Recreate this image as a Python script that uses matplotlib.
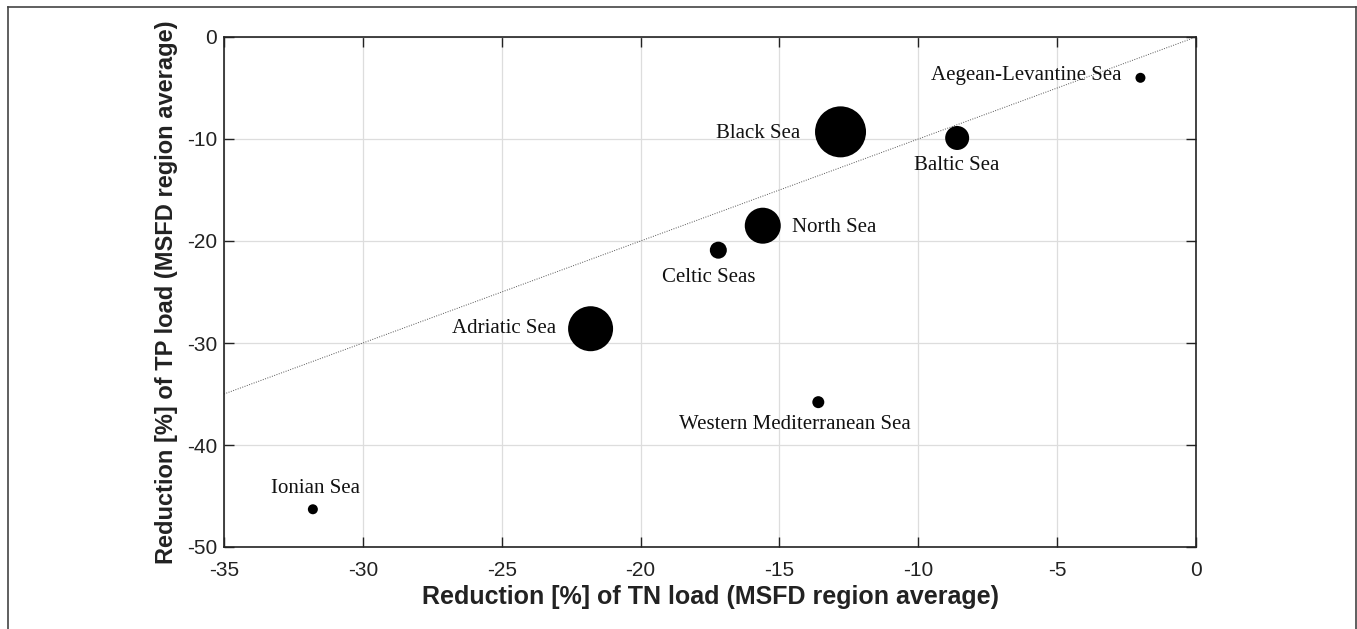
import matplotlib
matplotlib.use("Agg")
import matplotlib.pyplot as plt
from matplotlib.lines import Line2D
import numpy as np

regions = ["Aegean-Levantine Sea", "Black Sea", "Baltic Sea", "North Sea",
           "Celtic Seas", "Adriatic Sea", "Western Mediterranean Sea", "Ionian Sea"]
tn_reduction = [-2.0, -12.8, -8.6, -15.6, -17.2, -21.8, -13.6, -31.8]
tp_reduction = [-4.0, -9.3, -9.9, -18.5, -20.9, -28.6, -35.8, -46.3]
bubble_diam = [10, 51, 24, 36, 17, 45, 12, 10]  # relative bubble size (px diameter)

xticks = [-35, -30, -25, -20, -15, -10, -5, 0]
yticks = [-50, -40, -30, -20, -10, 0]

# label offsets (points) and alignment
label_style = {
    "Aegean-Levantine Sea": ((-14, 2), "right", "center"),
    "Black Sea": ((-29, -1), "right", "center"),
    "Baltic Sea": ((0, -20), "center", "center"),
    "North Sea": ((21, -1), "left", "center"),
    "Celtic Seas": ((-7, -20), "center", "center"),
    "Adriatic Sea": ((-25, 0), "right", "center"),
    "Western Mediterranean Sea": ((-17, -16), "center", "center"),
    "Ionian Sea": ((2, 15), "center", "center"),
}

fig = plt.figure(figsize=(13.57, 6.29), dpi=100)
ax = fig.add_axes([224/1357, 82/629, 972/1357, 510/629])

ax.plot([-35, 0], [-35, 0], linestyle=(0, (1, 1.5)), color="#555555", linewidth=0.7, zorder=1)

sizes = [(d * 0.72) ** 2 for d in bubble_diam]
ax.scatter(tn_reduction, tp_reduction, s=sizes, color="black", zorder=3, linewidths=0)

for name, x, y in zip(regions, tn_reduction, tp_reduction):
    off, ha, va = label_style[name]
    ax.annotate(name, (x, y), xytext=off, textcoords="offset points",
                ha=ha, va=va, fontsize=15, family="Liberation Serif", color="#111111")

ax.set_xlim(-35, 0)
ax.set_ylim(-50, 0)
ax.set_xticks(xticks)
ax.set_yticks(yticks)
ax.set_xticklabels([str(t) for t in xticks])
ax.set_yticklabels([str(t) for t in yticks])
ax.grid(True, color="#dddddd", linewidth=0.9)
ax.set_axisbelow(True)
ax.tick_params(direction="in", length=7, width=1, top=True, right=True,
               labelsize=15, colors="#222222")
ax.tick_params(axis="x", pad=10)
ax.tick_params(axis="y", pad=5)
for lab in ax.get_xticklabels() + ax.get_yticklabels():
    lab.set_family("Liberation Sans")
for sp in ax.spines.values():
    sp.set_linewidth(1.2)
    sp.set_color("#222222")

ax.set_xlabel("Reduction [%] of TN load (MSFD region average)", fontsize=18,
              fontweight="bold", family="Liberation Sans", color="#222222", labelpad=4)
ax.set_ylabel("Reduction [%] of TP load (MSFD region average)", fontsize=17,
              fontweight="bold", family="Liberation Sans", color="#222222", labelpad=6)

# outer frame
W, H = 1357, 629
fx = lambda p: p / W
fy = lambda p: 1 - p / H
frame_col = "#444444"
fig.add_artist(Line2D([fx(8), fx(8)], [fy(7), 0], color=frame_col, linewidth=1.2, transform=fig.transFigure))
fig.add_artist(Line2D([fx(8), fx(1356)], [fy(7), fy(7)], color=frame_col, linewidth=1.2, transform=fig.transFigure))
fig.add_artist(Line2D([fx(1355.5), fx(1355.5)], [fy(7), 0], color=frame_col, linewidth=1.2, transform=fig.transFigure))

fig.savefig("out.png", dpi=100)
